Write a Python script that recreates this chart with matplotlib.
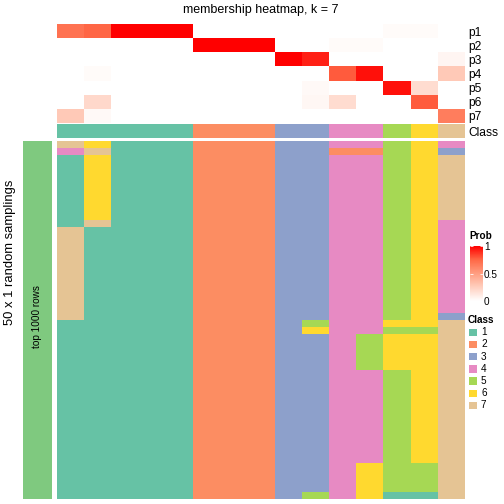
import numpy as np
import matplotlib
matplotlib.use("Agg")
import matplotlib.pyplot as plt
from matplotlib.colors import ListedColormap, LinearSegmentedColormap
from matplotlib.patches import Patch

plt.rcParams["font.family"] = ["Liberation Sans", "DejaVu Sans"]

# 类别与颜色
classes = ["1", "2", "3", "4", "5", "6", "7"]
class_colors = ["#66C2A5", "#FC8D62", "#8DA0CB", "#E78AC3", "#A6D854", "#FFD92F", "#E5C494"]

# 每个样本的 membership 概率 (15 个样本)
p1 = [0.70, 0.75, 1, 1, 1, 0, 0, 0, 0, 0, 0, 0, 0.02, 0.02, 0]
p2 = [0, 0, 0, 0, 0, 1, 1, 1, 0, 0, 0.02, 0.02, 0, 0, 0]
p3 = [0, 0, 0, 0, 0, 0, 0, 0, 1, 0.92, 0, 0, 0, 0, 0.05]
p4 = [0, 0.02, 0, 0, 0, 0, 0, 0, 0, 0, 0.78, 0.96, 0, 0, 0.28]
p5 = [0, 0, 0, 0, 0, 0, 0, 0, 0, 0.03, 0, 0, 0.96, 0.18, 0]
p6 = [0, 0.20, 0, 0, 0, 0, 0, 0, 0, 0.04, 0.18, 0, 0, 0.78, 0]
p7 = [0.28, 0.03, 0, 0, 0, 0, 0, 0, 0, 0, 0, 0, 0, 0, 0.65]
prob_names = ["p1", "p2", "p3", "p4", "p5", "p6", "p7"]

# 最终分类
sample_class = [1, 1, 1, 1, 1, 2, 2, 2, 3, 3, 4, 4, 5, 6, 7]

# 50 次随机抽样的分类结果 (每行一次抽样)
samplings = [
    "761112223344564",
    "471112223322563",
    "161112223344567",
    "161112223344567",
    "161112223344567",
    "161112223344567",
    "161112223344567",
    "161112223344567",
    "161112223344567",
    "161112223344567",
    "161112223344567",
    "171112223344564",
    "711112223344564",
    "711112223344564",
    "711112223344564",
    "711112223344564",
    "711112223344564",
    "711112223344564",
    "711112223344564",
    "711112223344564",
    "711112223344564",
    "711112223344564",
    "711112223344564",
    "711112223344564",
    "711112223344563",
    "111112223544667",
    "111112223644557",
    "111112223345667",
    "111112223345667",
    "111112223345667",
    "111112223345667",
    "111112223345667",
    "111112223344567",
    "111112223344567",
    "111112223344567",
    "111112223344567",
    "111112223344567",
    "111112223344567",
    "111112223344567",
    "111112223344567",
    "111112223344567",
    "111112223344567",
    "111112223344567",
    "111112223344567",
    "111112223344567",
    "111112223346557",
    "111112223346557",
    "111112223346557",
    "111112223346557",
    "111112223546117",
]

W = 504.0


def box(x0, y0, x1, y1):
    # 像素坐标 (左上原点) -> figure 坐标
    return [x0 / W, 1 - y1 / W, (x1 - x0) / W, (y1 - y0) / W]


prob_cmap = LinearSegmentedColormap.from_list(
    "prob", [(0, "#FFFFFF"), (0.25, "#FFCFBF"), (0.5, "#FF9E81"), (0.75, "#FF6846"), (1, "#FF0000")]
)
class_cmap = ListedColormap(class_colors)

fig = plt.figure(figsize=(7, 7), dpi=72)

# ---------- 概率热图 ----------
ax_p = fig.add_axes(box(57, 24, 465, 122.7))
prob = np.array([p1, p2, p3, p4, p5, p6, p7])
ax_p.imshow(prob, cmap=prob_cmap, vmin=0, vmax=1, aspect="auto", interpolation="nearest")
ax_p.set_xticks([])
ax_p.yaxis.tick_right()
ax_p.set_yticks(range(len(prob_names)), prob_names, fontsize=12)
ax_p.tick_params(axis="y", length=0, pad=3)
for s in ax_p.spines.values():
    s.set_visible(False)

# ---------- Class 注释行 ----------
ax_c = fig.add_axes(box(57, 124, 465, 138))
ax_c.imshow([sample_class], cmap=class_cmap, vmin=0.5, vmax=7.5, aspect="auto", interpolation="nearest")
ax_c.set_xticks([])
ax_c.yaxis.tick_right()
ax_c.set_yticks([0], ["Class"], fontsize=12)
ax_c.tick_params(axis="y", length=0, pad=3)
for s in ax_c.spines.values():
    s.set_visible(False)

# ---------- 抽样热图 ----------
ax_s = fig.add_axes(box(57, 141, 465, 499))
mat = np.array([[int(ch) for ch in row] for row in samplings])
ax_s.imshow(mat, cmap=class_cmap, vmin=0.5, vmax=7.5, aspect="auto", interpolation="nearest")
ax_s.axis("off")

# 左侧分组条
ax_g = fig.add_axes(box(22.7, 141, 51, 499))
ax_g.imshow([[0]], cmap=ListedColormap(["#7FC97F"]), aspect="auto")
ax_g.axis("off")
ax_g.text(0, -0.01, "top 1000 rows", rotation=90, ha="center", va="center", fontsize=10)

fig.text(10 / W, 1 - 252 / W, "50 x 1 random samplings", rotation=90, ha="center", va="center", fontsize=13)
fig.text(261 / W, 1 - 10 / W, "membership heatmap, k = 7", ha="center", va="center", fontsize=12.5)

# ---------- 图例 ----------
fig.text(469 / W, 1 - 236 / W, "Prob", fontsize=10, fontweight="bold", ha="left", va="center")
cax = fig.add_axes(box(470, 246, 483, 301))
sm = plt.cm.ScalarMappable(cmap=prob_cmap, norm=plt.Normalize(0, 1))
cb = fig.colorbar(sm, cax=cax, ticks=[0, 0.5, 1])
cb.ax.set_yticklabels(["0", "0.5", "1"], fontsize=10)
cb.outline.set_visible(False)
cb.ax.tick_params(length=3, width=0.8, color="white", direction="in", pad=1, right=True, left=True)

handles = [Patch(facecolor=c, edgecolor="white", label=l) for c, l in zip(class_colors, classes)]
fig.legend(
    handles=handles,
    loc="upper left",
    bbox_to_anchor=(466 / W, 1 - 313 / W),
    frameon=False,
    title="Class",
    title_fontproperties={"weight": "bold", "size": 10},
    alignment="left",
    fontsize=10,
    handlelength=0.9,
    handleheight=0.9,
    handletextpad=0.4,
    labelspacing=0.22,
    borderpad=0.2,
    borderaxespad=0,
)

fig.savefig("out.png", dpi=72)
